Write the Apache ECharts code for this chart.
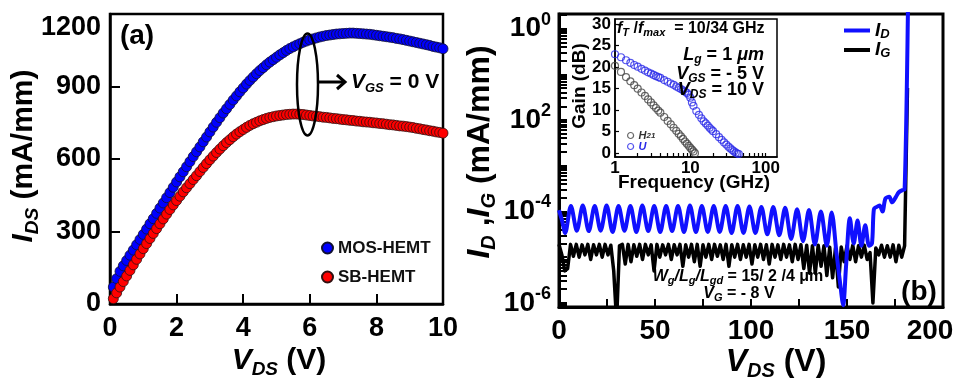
<!DOCTYPE html>
<html>
<head>
<meta charset="utf-8">
<script src="https://cdn.jsdelivr.net/npm/echarts@6/dist/echarts.min.js"></script>
<style>
html, body { margin: 0; padding: 0; background: #fff; }
#chart { width: 953px; height: 381px; }
</style>
</head>
<body>
<div id="chart"></div>
<script>
// (a) I_DS - V_DS at V_GS = 0 V
var vdsA = [0.1, 0.2, 0.3, 0.4, 0.5, 0.6, 0.7, 0.8, 0.9, 1.0,
    1.1, 1.2, 1.3, 1.4, 1.5, 1.6, 1.7, 1.8, 1.9, 2.0,
    2.1, 2.2, 2.3, 2.4, 2.5, 2.6, 2.7, 2.8, 2.9, 3.0,
    3.1, 3.2, 3.3, 3.4, 3.5, 3.6, 3.7, 3.8, 3.9, 4.0,
    4.1, 4.2, 4.3, 4.4, 4.5, 4.6, 4.7, 4.8, 4.9, 5.0,
    5.1, 5.2, 5.3, 5.4, 5.5, 5.6, 5.7, 5.8, 5.9, 6.0,
    6.1, 6.2, 6.3, 6.4, 6.5, 6.6, 6.7, 6.8, 6.9, 7.0,
    7.1, 7.2, 7.3, 7.4, 7.5, 7.6, 7.7, 7.8, 7.9, 8.0,
    8.1, 8.2, 8.3, 8.4, 8.5, 8.6, 8.7, 8.8, 8.9, 9.0,
    9.1, 9.2, 9.3, 9.4, 9.5, 9.6, 9.7, 9.8, 9.9, 10.0];
var mosIds = [70, 105, 135, 158, 180, 202, 223, 245, 267, 288,
    310, 332, 353, 375, 397, 418, 440, 461, 483, 505,
    526, 547, 568, 589, 610, 630, 650, 671, 691, 712,
    732, 752, 771, 790, 808, 826, 844, 861, 878, 894,
    910, 925, 939, 953, 966, 978, 990, 1001, 1011, 1021,
    1031, 1040, 1049, 1057, 1064, 1071, 1077, 1083, 1088, 1093,
    1097, 1101, 1105, 1108, 1111, 1113, 1115, 1117, 1118, 1119,
    1120, 1121, 1121, 1120, 1119, 1118, 1117, 1116, 1114, 1112,
    1110, 1108, 1106, 1104, 1102, 1099, 1097, 1094, 1091, 1088,
    1085, 1082, 1079, 1076, 1073, 1070, 1066, 1063, 1060, 1056];
var sbIds = [22, 46, 70, 93, 116, 139, 162, 185, 207, 229,
    250, 271, 292, 312, 332, 352, 372, 391, 410, 428,
    446, 464, 481, 498, 515, 531, 548, 565, 581, 597,
    612, 627, 641, 655, 668, 680, 692, 703, 713, 722,
    731, 739, 746, 752, 758, 763, 768, 772, 775, 778,
    780, 782, 784, 785, 786, 786, 785, 784, 782, 780,
    778, 777, 775, 773, 772, 770, 768, 767, 765, 763,
    762, 760, 759, 757, 756, 754, 753, 752, 750, 749,
    747, 746, 744, 742, 741, 739, 737, 736, 734, 732,
    730, 727, 725, 722, 720, 717, 715, 712, 710, 707];

// (b) breakdown, log10 of current in mA/mm
var idV = [0, 1.6, 3.2, 6.2, 9.3, 12.4, 15.5, 18.6, 21.7, 24.8, 27.9, 31.0, 34.1, 37.2, 40.3,
    43.4, 46.5, 49.6, 52.7, 55.8, 58.9, 62.0, 65.1, 68.2, 71.3, 74.4, 77.5, 80.6, 83.7,
    86.8, 89.9, 93.0, 96.1, 99.2, 102.3, 105.4, 108.5, 111.6, 114.7, 117.8, 120.9, 124.0,
    127.1, 130.2, 133.3, 136.4, 139.5, 142.0, 144.5, 146.5, 148.0, 149.5, 151.5, 153.5,
    155.5, 157.5, 159.5, 161.5, 163.0, 164.0, 165.5, 167.0, 168.5, 170.0, 172.0, 173.5,
    175.5, 177.0, 179.0, 180.0, 181.8];
var idLog = [-3.97, -4.2, -4.47, -3.88, -4.42, -3.87, -4.43, -3.88, -4.42, -3.87, -4.45, -3.88, -4.42, -3.88, -4.45,
    -3.87, -4.43, -3.88, -4.45, -3.88, -4.43, -3.88, -4.45, -3.87, -4.45, -3.88, -4.45, -3.88, -4.45,
    -3.88, -4.47, -3.88, -4.47, -3.89, -4.47, -3.9, -4.5, -3.9, -4.52, -3.92, -4.6, -3.95,
    -4.65, -3.97, -4.72, -4.0, -4.75, -4.02, -4.9, -5.6, -6.05, -5.2, -4.15, -4.7,
    -4.2, -4.75, -4.3, -4.75, -4.7, -3.95, -3.9, -3.87, -4.0, -3.72, -3.68, -3.8,
    -3.68, -3.58, -3.53, -3.52, 0.6];
var igV = [0, 1.5, 3, 4.5, 6, 7.5, 9, 10.5, 12, 13.5, 15, 16.5, 18, 19.5, 21, 22.5, 24, 25.5, 27, 28.5,
    30, 31.5, 33, 34.5, 36, 37.5, 39, 40.5, 42, 43.5, 45, 46.5, 48, 49.5, 51, 52.5, 54, 55.5, 57, 58.5,
    60, 61.5, 63, 64.5, 66, 67.5, 69, 70.5, 72, 73.5, 75, 76.5, 78, 79.5, 81, 82.5, 84, 85.5, 87, 88.5,
    90, 91.5, 93, 94.5, 96, 97.5, 99, 100.5, 102, 103.5, 105, 106.5, 108, 109.5, 111, 112.5, 114, 115.5,
    117, 118.5, 120, 121.5, 123, 124.5, 126, 127.5, 129, 130.5, 132, 133.5, 135, 136.5, 138, 139.5,
    141, 142.5, 144, 145.5, 147, 148.5, 150, 151.5, 153, 154.5, 156, 157.5, 159, 160.5, 162, 163.5,
    165, 166.5, 168, 169.5, 171, 172.5, 174, 175.5, 177, 178.5, 180, 181.5];
var igLog = [-4.72, -4.95, -5.3, -5.25, -4.72, -4.98, -4.72, -5.0, -4.73, -4.95,
    -4.72, -5.05, -4.73, -4.95, -4.72, -5.0, -4.72, -4.95, -4.74, -5.3,
    -6.4, -4.75, -4.72, -5.15, -4.72, -5.1, -4.73, -4.98, -4.72, -5.05,
    -4.72, -4.95, -4.73, -5.3, -4.72, -5.0, -4.73, -4.95, -4.72, -5.05,
    -4.73, -4.95, -4.72, -5.2, -4.73, -5.0, -4.72, -5.1, -4.72, -5.2,
    -4.73, -5.0, -4.72, -5.05, -4.72, -4.98, -4.73, -5.05, -4.72, -5.2,
    -4.73, -5.0, -4.72, -5.05, -4.73, -5.0, -4.72, -5.15, -4.73, -5.0,
    -4.72, -5.05, -4.73, -5.15, -4.72, -5.0, -4.73, -5.05, -4.72, -5.0,
    -4.73, -5.1, -4.72, -5.05, -4.73, -5.25, -4.74, -5.35, -4.75, -5.35,
    -4.74, -5.2, -4.75, -5.4, -4.78, -5.45, -4.8, -5.65, -4.78, -5.1,
    -4.75, -5.05, -4.74, -5.1, -4.75, -5.0, -4.74, -5.05, -4.9, -6.0,
    -4.8, -4.95, -4.74, -5.0, -4.75, -5.0, -4.73, -5.1, -4.74, -5.0,
    -4.75, -1.3];

// inset: RF gain (dB) vs frequency (GHz)
var uFreq = [1.0, 1.2, 1.4, 1.6, 1.8, 2.0, 2.25, 2.5, 2.75, 3.0, 3.25, 3.5, 3.75, 4.0, 4.5, 5.0, 5.5, 6.0,
    6.5, 7.0, 7.5, 8.0, 8.5, 9.0, 9.5, 10.0, 10.5, 11.0, 12, 13, 14, 15, 16, 17, 18, 19, 20,
    22, 24, 26, 28, 30, 32, 34, 36, 38, 40, 42, 44];
var uGain = [23.0, 22.3, 21.6, 21.0, 20.5, 20.1, 19.6, 19.2, 18.8, 18.5, 18.2, 17.9, 17.7, 17.5, 17.0, 16.6, 16.2, 15.9,
    15.5, 15.2, 14.9, 14.6, 14.3, 14.0, 13.6, 12.9, 11.8, 11.0, 9.8, 8.9, 8.1, 7.4, 6.9, 6.4, 5.9, 5.5, 5.1,
    4.4, 3.7, 3.1, 2.5, 2.0, 1.5, 1.1, 0.7, 0.4, 0.1, -0.1, -0.2];
var hFreq = [1.0, 1.2, 1.4, 1.6, 1.8, 2.0, 2.25, 2.5, 2.75, 3.0, 3.25, 3.5, 3.75, 4.0, 4.5, 5.0, 5.5, 6.0,
    6.5, 7.0, 7.5, 8.0, 8.5, 9.0, 9.5, 10.0, 10.5, 11.0, 11.5];
var hGain = [20.3, 18.9, 17.7, 16.7, 15.8, 15.0, 14.1, 13.3, 12.5, 11.8, 11.1, 10.5, 9.9, 9.4, 8.4, 7.5, 6.7, 5.9,
    5.2, 4.5, 3.9, 3.3, 2.7, 2.2, 1.7, 1.2, 0.8, 0.4, 0.0];

// tick labels
var ticksA_x = [0, 2, 4, 6, 8, 10];
var ticksA_y = [0, 300, 600, 900, 1200];
var ticksB_x = [0, 50, 100, 150, 200];
var minorB_x = [25, 50, 75, 100, 125, 150, 175];
var ticksB_y = [-6, -4, -2, 0];
var supB_y = { '-6': '-6', '-4': '-4', '-2': '2', '0': '0' };
var ticksIn_x = [1, 10, 100];
var minorIn_x = [1, 2, 3, 4, 5, 6, 7, 8, 9, 10, 20, 30, 40, 50, 60, 70, 80, 90, 100];
var ticksIn_y = [0, 5, 10, 15, 20, 25, 30];

var F = 'Arial, "Liberation Sans", sans-serif';

function pairs(xs, ys, fx) {
    return xs.map(function (x, i) { return [fx ? fx(x) : x, ys[i]]; });
}
function st(size, italic, extra) {
    var s = { fontFamily: F, fontSize: size, fontWeight: 'bold', fontStyle: italic ? 'italic' : 'normal', color: '#000', fill: '#000' };
    for (var k in extra) s[k] = extra[k];
    return s;
}
// main/sub rich set: i italic, n normal, s italic subscript, u upright subscript
function subRich(main, sub, lh) {
    return {
        i: st(main, true, { lineHeight: lh }),
        n: st(main, false, { lineHeight: lh }),
        s: st(sub, true, { verticalAlign: 'bottom' }),
        u: st(sub, false, { verticalAlign: 'bottom' })
    };
}
function txt(x, y, text, richSet, align, rot) {
    return {
        type: 'text', x: x, y: y, rotation: rot || 0, z: 100,
        style: { text: text, rich: richSet, align: align || 'center', verticalAlign: 'middle' }
    };
}

// log tick positions for panel (b)
var yMinB = -6.09, yMaxB = 0.32;
var minorB_y = [];
[-7, -6, -5, -4, -3, -2, -1, 0].forEach(function (d) {
    [1, 2, 3, 4, 5, 6, 7, 8, 9].forEach(function (m) {
        var v = d + Math.log10(m);
        if (v >= yMinB && v <= yMaxB) minorB_y.push(v);
    });
});

var axisText = function (size) { return { fontFamily: F, fontSize: size, fontWeight: 'bold', color: '#000' }; };
var plain = function (v) { return String(v); };

var dom = document.getElementById('chart');
var myChart = echarts.init(dom);

myChart.setOption({
    animation: false,
    backgroundColor: '#fff',
    grid: [
        { left: 110, top: 14, right: 510, bottom: 77, show: true, borderColor: '#000', borderWidth: 2.5, containLabel: false, outerBoundsMode: 'none' },
        { left: 559, top: 14, right: 10, bottom: 74, show: true, borderColor: '#000', borderWidth: 3, containLabel: false, outerBoundsMode: 'none' },
        { left: 615, top: 19, right: 176, bottom: 224, show: true, borderColor: '#000', borderWidth: 1.5, backgroundColor: '#fff', containLabel: false, outerBoundsMode: 'none' }
    ],
    xAxis: [
        {
            gridIndex: 0, type: 'value', min: 0, max: 10, interval: 2,
            axisLine: { onZero: false, lineStyle: { color: '#000', width: 2.5 } }, splitLine: { show: false },
            axisTick: { inside: true, length: 10, lineStyle: { color: '#000', width: 2 } },
            axisLabel: Object.assign(axisText(27), { margin: 11, customValues: ticksA_x, formatter: plain })
        },
        {
            gridIndex: 1, type: 'value', min: 0, max: 200,
            axisLine: { onZero: false, lineStyle: { color: '#000', width: 3 } }, splitLine: { show: false },
            axisTick: { inside: true, length: 8, customValues: minorB_x, lineStyle: { color: '#000', width: 2 } },
            axisLabel: {
                margin: 10, customValues: ticksB_x,
                formatter: function (v) { return v === 200 ? '{r|200}' : '{t|' + v + '}'; },
                rich: {
                    t: axisText(28),
                    r: Object.assign(axisText(28), { padding: [0, 26, 0, 0] })
                }
            }
        },
        {
            gridIndex: 2, type: 'value', min: 0, max: 2.15,
            axisLine: { onZero: false, lineStyle: { color: '#000', width: 1.5 } }, splitLine: { show: false },
            axisTick: { inside: true, length: 4, customValues: minorIn_x.map(Math.log10), lineStyle: { color: '#000', width: 1.2 } },
            axisLabel: Object.assign(axisText(17), {
                margin: 3, customValues: ticksIn_x.map(Math.log10),
                formatter: function (v) { return String(Math.round(Math.pow(10, v))); }
            })
        }
    ],
    yAxis: [
        {
            gridIndex: 0, type: 'value', min: 0, max: 1200, interval: 300,
            axisLine: { onZero: false, lineStyle: { color: '#000', width: 2.5 } }, splitLine: { show: false },
            axisTick: { inside: true, length: 10, lineStyle: { color: '#000', width: 2 } },
            axisLabel: Object.assign(axisText(27), { margin: 9, customValues: ticksA_y, verticalAlignMaxLabel: 'top', formatter: plain })
        },
        {
            gridIndex: 1, type: 'value', min: yMinB, max: yMaxB,
            axisLine: { onZero: false, lineStyle: { color: '#000', width: 3 } }, splitLine: { show: false },
            axisTick: { inside: true, length: 8, customValues: minorB_y, lineStyle: { color: '#000', width: 2 } },
            axisLabel: {
                margin: 8, customValues: ticksB_y,
                formatter: function (v) { return '{b|10}{p|' + supB_y[String(Math.round(v))] + '}'; },
                rich: {
                    b: { fontFamily: F, fontSize: 28, fontWeight: 'bold', color: '#000', lineHeight: 36 },
                    p: { fontFamily: F, fontSize: 18, fontWeight: 'bold', color: '#000', verticalAlign: 'top' }
                }
            }
        },
        {
            gridIndex: 2, type: 'value', min: -0.9, max: 31.2,
            axisLine: { onZero: false, lineStyle: { color: '#000', width: 1.5 } }, splitLine: { show: false },
            axisTick: { inside: true, length: 4, customValues: ticksIn_y, lineStyle: { color: '#000', width: 1.2 } },
            axisLabel: Object.assign(axisText(17), { margin: 4, customValues: ticksIn_y, formatter: plain })
        }
    ],
    legend: [
        {
            data: ['MOS-HEMT', 'SB-HEMT'], left: 316, top: 233, orient: 'vertical',
            icon: 'circle', itemWidth: 11, itemHeight: 11, itemGap: 9, selectedMode: false,
            textStyle: { fontFamily: F, fontSize: 17, fontWeight: 'bold', color: '#111', lineHeight: 20 }
        },
        {
            data: ['I_D', 'I_G'], left: 839, top: 16, orient: 'vertical',
            icon: 'rect', itemWidth: 26, itemHeight: 4, itemGap: 0, selectedMode: false,
            formatter: function (name) { return '{i|I}{s|' + name.split('_')[1] + '}'; },
            textStyle: {
                rich: {
                    i: { fontFamily: F, fontSize: 19, fontStyle: 'italic', fontWeight: 'bold', color: '#000', lineHeight: 20 },
                    s: { fontFamily: F, fontSize: 13, fontStyle: 'italic', fontWeight: 'bold', color: '#000', verticalAlign: 'bottom' }
                }
            }
        },
        {
            data: [
                { name: 'H21', itemStyle: { color: 'rgba(0,0,0,0)', borderColor: '#444', borderWidth: 1.2 } },
                { name: 'U', itemStyle: { color: 'rgba(0,0,0,0)', borderColor: '#2a2ae8', borderWidth: 1.2 } }
            ],
            left: 622, top: 125, orient: 'vertical',
            icon: 'circle', itemWidth: 6, itemHeight: 6, itemGap: 0, selectedMode: false,
            formatter: function (name) { return name === 'H21' ? '{h|H}{hs|21}' : '{u|U}'; },
            textStyle: {
                rich: {
                    h: { fontFamily: F, fontSize: 11, fontStyle: 'italic', fontWeight: 'bold', color: '#333', lineHeight: 9 },
                    hs: { fontFamily: F, fontSize: 8, fontStyle: 'italic', fontWeight: 'bold', color: '#333', verticalAlign: 'bottom' },
                    u: { fontFamily: F, fontSize: 11, fontStyle: 'italic', fontWeight: 'bold', color: '#2a2ae8', lineHeight: 9 }
                }
            }
        }
    ],
    series: [
        {
            name: 'MOS-HEMT', type: 'scatter', xAxisIndex: 0, yAxisIndex: 0,
            symbol: 'circle', symbolSize: 10,
            itemStyle: { color: '#0000ff', borderColor: '#101030', borderWidth: 0.8, opacity: 1 },
            data: pairs(vdsA, mosIds)
        },
        {
            name: 'SB-HEMT', type: 'scatter', xAxisIndex: 0, yAxisIndex: 0,
            symbol: 'circle', symbolSize: 10,
            itemStyle: { color: '#ff0000', borderColor: '#301010', borderWidth: 0.8, opacity: 1 },
            data: pairs(vdsA, sbIds)
        },
        {
            name: 'I_G', type: 'line', xAxisIndex: 1, yAxisIndex: 1,
            showSymbol: false, symbol: 'none', clip: true,
            lineStyle: { color: '#000', width: 3.5, join: 'round' }, itemStyle: { color: '#000' },
            data: pairs(igV, igLog)
        },
        {
            name: 'I_D', type: 'line', xAxisIndex: 1, yAxisIndex: 1,
            showSymbol: false, symbol: 'none', clip: true, smooth: 0.3,
            lineStyle: { color: '#1010ff', width: 4, join: 'round' }, itemStyle: { color: '#1010ff' },
            data: pairs(idV, idLog)
        },
        {
            name: 'H21', type: 'scatter', xAxisIndex: 2, yAxisIndex: 2,
            symbol: 'circle', symbolSize: 7,
            itemStyle: { color: 'rgba(0,0,0,0)', borderColor: '#444', borderWidth: 1.2 },
            data: pairs(hFreq, hGain, Math.log10)
        },
        {
            name: 'U', type: 'scatter', xAxisIndex: 2, yAxisIndex: 2,
            symbol: 'circle', symbolSize: 7,
            itemStyle: { color: 'rgba(0,0,0,0)', borderColor: '#2a2ae8', borderWidth: 1.2 },
            data: pairs(uFreq, uGain, Math.log10)
        }
    ],
    graphic: [
        // axis titles
        txt(24, 156, '{i|I}{s|DS}{n| (mA/mm)}', subRich(30, 19, 36), 'center', Math.PI / 2),
        txt(279, 361, '{i|V}{s|DS}{n| (V)}', subRich(30, 19, 36), 'center'),
        txt(480, 152, '{i|I}{s|D}{n| ,}{i|I}{s|G}{n| (mA/mm)}', subRich(32, 20, 38), 'center', Math.PI / 2),
        txt(776, 362, '{i|V}{s|DS}{n| (V)}', subRich(32, 20, 38), 'center'),
        // panel labels
        txt(137, 36, '{n|(a)}', subRich(28, 18, 30), 'center'),
        txt(919, 292, '{n|(b)}', subRich(28, 18, 30), 'center'),
        // (a) annotation
        { type: 'ellipse', z: 90, shape: { cx: 307.5, cy: 84.5, rx: 10.5, ry: 51 }, style: { fill: 'none', stroke: '#000', lineWidth: 2.5 } },
        { type: 'line', z: 90, shape: { x1: 318, y1: 82, x2: 344, y2: 82 }, style: { stroke: '#000', lineWidth: 3 } },
        { type: 'polyline', z: 90, shape: { points: [[337, 75], [345, 82], [337, 89]] }, style: { fill: 'none', stroke: '#000', lineWidth: 3 } },
        txt(351, 82, '{i|V}{s|GS}{n| = 0 V}', subRich(21, 13, 25), 'left'),
        // inset titles and notes
        txt(580, 86, '{n|Gain (dB)}', subRich(19, 12, 22), 'center', Math.PI / 2),
        txt(694, 183, '{n|Frequency (GHz)}', subRich(19, 12, 22), 'center'),
        txt(617, 29, '{i|f}{s|T}{n| /}{i|f}{s|max}{n|  = 10/34 GHz}', subRich(16, 11, 19), 'left'),
        txt(764, 55, '{i|L}{s|g}{n| = 1 }{i|\u03bcm}', subRich(18, 12, 21), 'right'),
        txt(764, 74, '{i|V}{s|GS}{n| = - 5 V}', subRich(18, 12, 21), 'right'),
        txt(764, 90, '{i|V}{s|DS}{n| = 10 V}', subRich(18, 12, 21), 'right'),
        // (b) device notes
        txt(738, 277, '{i|W}{s|g}{i|/L}{s|g}{i|/L}{s|gd}{n| = 15/ 2 /4 \u03bcm}', subRich(16, 11, 19), 'center'),
        txt(739, 294, '{i|V}{s|G}{n| = - 8 V}', subRich(16, 11, 19), 'center')
    ]
});

window.addEventListener('resize', function () {
    myChart.resize();
});
</script>
</body>
</html>
